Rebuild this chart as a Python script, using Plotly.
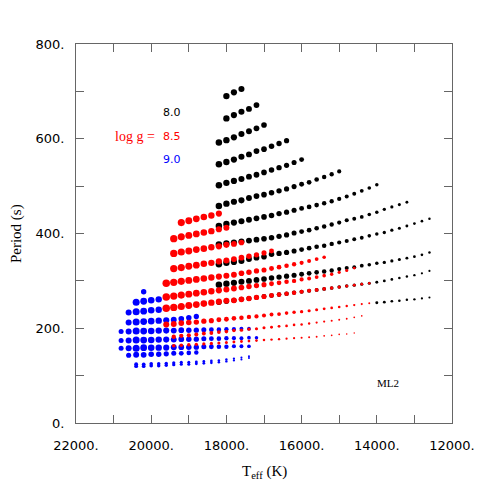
import plotly.graph_objects as go

STEP = 200  # Teff spacing of the model grid (K)

# log g = 8.0 (black): hottest Teff of each mode sequence, periods hot -> cool
g80_teff_start = [18000, 18000, 18200, 18200, 18200, 18200, 18200, 18200, 18200, 18200, 18200, 14000]
g80_periods = [
    [690, 698, 705],
    [643, 650, 657, 663, 671],
    [592, 597, 603, 610, 616, 622, 629],
    [546, 551, 556, 562, 567, 574, 578, 584, 590, 596],
    [502, 507, 511, 515, 520, 524, 529, 534, 539, 544, 550, 556],
    [458, 463, 467, 470, 475, 479, 482, 486, 490, 494, 499, 504, 508, 514, 519, 525, 531],
    [416, 420, 423, 426, 429, 432, 435, 438, 442, 445, 449, 453, 456, 460, 464, 468, 473, 478,
     484, 490, 496, 503],
    [377, 379, 381, 383, 385, 387, 389, 391, 394, 397, 401, 404, 407, 411, 415, 419, 423, 428,
     431, 435, 440, 445, 451, 456, 461, 466],
    [335, 338, 340, 342, 346, 349, 351, 356, 358, 360, 363, 366, 369, 372, 374, 378, 381, 384,
     388, 391, 395, 399, 402, 407, 411, 416, 421, 426, 431],
    [292, 294, 296, 298, 300, 302, 304, 306, 308, 310, 312, 314, 316, 318, 320, 322, 325, 327,
     329, 332, 334, 337, 339, 342, 345, 348, 351, 355, 360],
    [255, 257, 259, 261, 263, 265, 267, 269, 271, 273, 275, 277, 279, 281, 283, 285, 287, 289,
     291, 293, 295, 297, 300, 303, 306, 309, 312, 316, 321],
    [254, 255, 257, 258, 260, 261, 263, 265],
]

# log g = 8.5 (red)
g85_teff_start = [19200, 19400, 19400, 19400, 19600, 19600, 19600, 19600, 19400, 19400]
g85_periods = [
    [423, 427, 431, 435, 438, 442],
    [389, 393, 396, 399, 402, 405, 409, 412],
    [358, 361, 363, 366, 368, 371, 373, 376, 378, 381],
    [326, 328, 331, 333, 336, 338, 341, 343, 346, 349, 352, 355, 359, 363],
    [295, 297, 299, 301, 303, 305, 307, 309, 311, 313, 316, 318, 321, 323, 326, 329, 332, 335,
     338, 342, 346, 350],
    [266, 268, 270, 272, 274, 276, 278, 280, 282, 284, 286, 288, 290, 292, 294, 296, 298, 300,
     303, 305, 308, 311, 314, 318, 322, 327],
    [242, 244, 246, 248, 250, 252, 254, 256, 258, 259, 261, 263, 265, 267, 269, 271, 273, 275,
     277, 279, 281, 283, 285, 287, 289, 291, 293, 295],
    [208, 209, 211, 212, 213, 215, 216, 218, 219, 221, 222, 224, 225, 227, 229, 230, 232, 234,
     235, 237, 239, 241, 243, 245, 247, 249, 251, 253],
    [182, 184, 185, 187, 189, 190, 192, 193, 195, 196, 198, 199, 201, 202, 204, 205, 207, 208,
     210, 212, 214, 216, 218, 220, 223, 226],
    [163, 164, 165, 166, 167, 168, 169, 170, 171, 172, 173, 174, 175, 176, 177, 178, 179, 180,
     181, 182, 184, 185, 187, 188, 190],
]

# log g = 9.0 (blue)
g90_teff_start = [20200, 20400, 20600, 20600, 20800, 20800, 20800, 20600, 20400, 20400]
g90_periods = [
    [277],
    [255, 257, 259, 261],
    [233, 235, 236, 238, 239],
    [212, 213, 214, 215, 216, 217, 218, 220, 222, 225],
    [193, 193, 194, 194, 194, 195, 195, 195, 196, 196, 196, 197, 197, 197, 198, 198, 199, 199],
    [174, 174, 175, 175, 175, 176, 176, 176, 177, 177, 177, 178, 178, 178, 179, 179, 179, 180, 180],
    [158, 158, 158, 159, 159, 159, 159, 160, 160, 160, 160, 161, 161, 161, 161, 162, 162, 162],
    [143, 144, 144, 145, 145, 146, 147, 147, 148, 149],
    [124, 124, 125, 125, 126, 127, 128, 128, 129, 130, 131, 132, 134, 136, 138, 141],
    [120, 120, 121, 121, 122, 123, 124, 124, 125, 126, 127, 128, 130, 132, 134, 137],
]

x_ticks = list(range(12000, 22001, 1000))
y_ticks = list(range(0, 801, 100))

# marker look: (colour, hot Teff, cool Teff, size at hot end, size at cool end, per-row scale)
styles = {
    "8.0": ("#000000", 18200, 12600, 6.5, 2.5, [1] * 10 + [0.85, 0.85]),
    "8.5": ("#ff0000", 19600, 14200, 7.5, 2.5, [1] * 7 + [0.8, 0.6, 0.5]),
    "9.0": ("#0000ff", 20400, 17200, 7.0, 3.5, [0.8] + [1] * 6 + [0.85, 0.55, 0.55]),
}


def build_trace(name, teff_start, periods):
    color, t_hot, t_cool, s_hot, s_cool, scale = styles[name]
    xs, ys, sizes = [], [], []
    for row, (t0, pers) in enumerate(zip(teff_start, periods)):
        for i, p in enumerate(pers):
            t = t0 - STEP * i
            frac = (t - t_cool) / (t_hot - t_cool)
            if frac > 1:
                s = s_hot - (frac - 1) * (t_hot - t_cool) / 400 * 2.0
            else:
                s = s_cool + (s_hot - s_cool) * max(frac, 0)
            xs.append(t)
            ys.append(p)
            sizes.append(s * scale[row])
    return go.Scatter(x=xs, y=ys, mode="markers", name=name,
                      marker=dict(color=color, size=sizes, opacity=1, line=dict(width=0)))


fig = go.Figure()
fig.add_trace(build_trace("8.0", g80_teff_start, g80_periods))
fig.add_trace(build_trace("9.0", g90_teff_start, g90_periods))
fig.add_trace(build_trace("8.5", g85_teff_start, g85_periods))

axis_style = dict(ticks="inside", ticklen=8, tickcolor="#666666", tickwidth=1,
                  showline=True, linecolor="#666666", linewidth=1, mirror="allticks",
                  showgrid=False, zeroline=False,
                  tickfont=dict(family="DejaVu Sans", size=13, color="black"))

fig.update_xaxes(range=[22000, 12000], tickvals=x_ticks,
                 ticktext=[f"{v}." if v % 2000 == 0 else "" for v in x_ticks],
                 ticklabelstandoff=10, **axis_style)
fig.update_yaxes(range=[0, 800], tickvals=y_ticks,
                 ticktext=[f"{v}." if v % 200 == 0 else "" for v in y_ticks],
                 ticklabelstandoff=8, **axis_style)

serif = "Liberation Serif"
fig.update_layout(
    width=493, height=493,
    margin=dict(l=68, r=49, t=36, b=78),
    plot_bgcolor="white", paper_bgcolor="white",
    showlegend=False,
    annotations=[
        dict(text="Period (s)", xref="paper", yref="paper", x=-0.158, y=0.5,
             xanchor="center", yanchor="middle",
             textangle=-90, showarrow=False, font=dict(family=serif, size=15, color="black")),
        dict(text="T<sub>eff</sub> (K)", xref="paper", yref="paper", x=0.5, y=-0.13,
             xanchor="center", yanchor="middle",
             showarrow=False, font=dict(family=serif, size=15, color="black")),
        dict(text="8.0", x=19154, y=656, xanchor="right", showarrow=False,
             font=dict(family="DejaVu Sans", size=11, color="black")),
        dict(text="8.5", x=19154, y=605, xanchor="right", showarrow=False,
             font=dict(family="DejaVu Sans", size=11, color="#ff0000")),
        dict(text="log g =", x=19850, y=605, xanchor="right", showarrow=False,
             font=dict(family=serif, size=14, color="#ff0000")),
        dict(text="9.0", x=19154, y=557, xanchor="right", showarrow=False,
             font=dict(family="DejaVu Sans", size=11, color="#0000ff")),
        dict(text="ML2", x=13700, y=84, showarrow=False,
             font=dict(family=serif, size=11, color="black")),
    ],
)

fig.write_html("out.html")
